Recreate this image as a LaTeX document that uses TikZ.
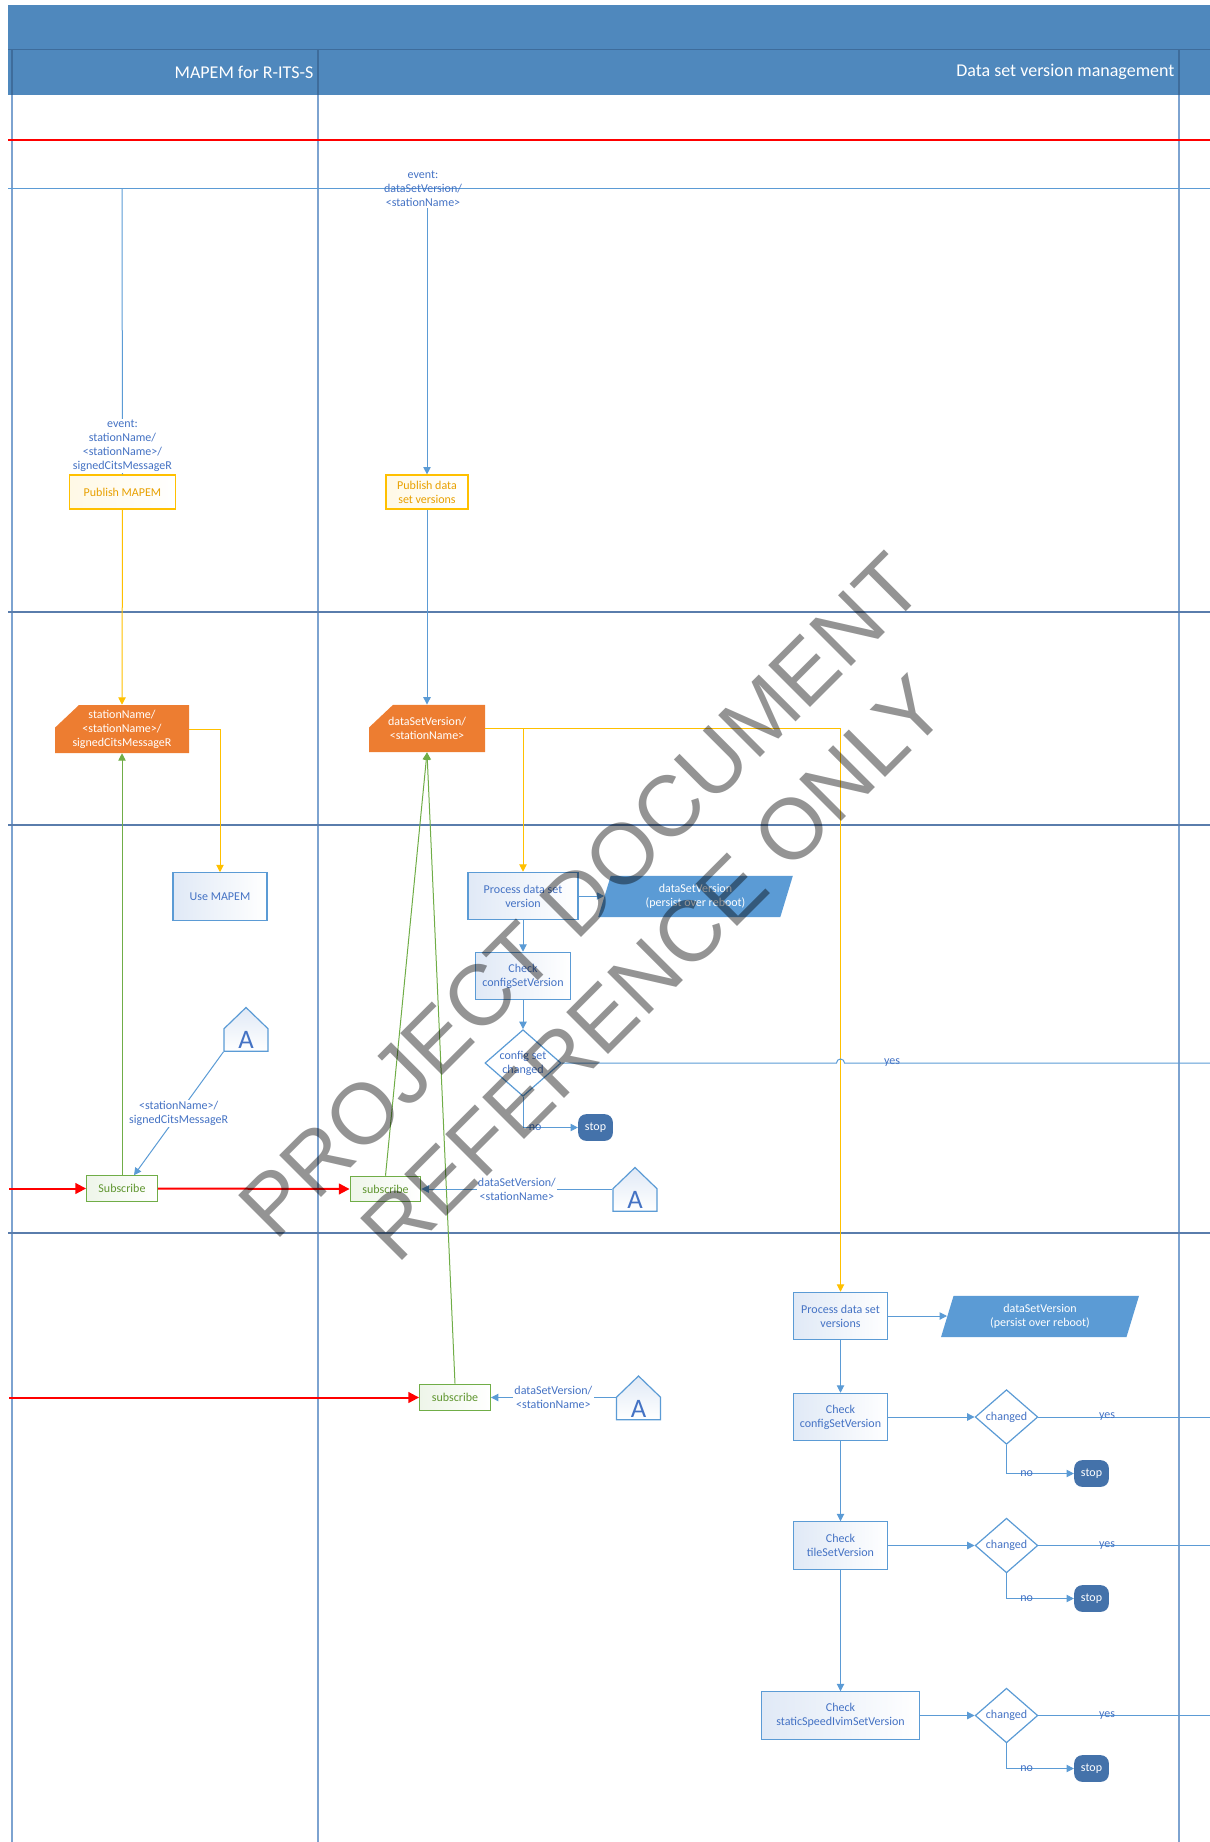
\documentclass[tikz,border=0pt]{standalone}
\usepackage{fontspec}
\setmainfont{Carlito}
\newfontfamily\wmfont{Liberation Sans}
\usetikzlibrary{calc, positioning, arrows.meta, shapes.geometric, shapes.symbols}
\definecolor{laneblue}{RGB}{79,136,189}
\definecolor{lanedark}{RGB}{62,108,155}
\definecolor{laneline}{RGB}{125,163,208}
\definecolor{phaseline}{RGB}{90,125,172}
\definecolor{flowblue}{RGB}{91,155,213}
\definecolor{textblue}{RGB}{68,114,196}
\definecolor{flowyellow}{RGB}{255,192,0}
\definecolor{textyellow}{RGB}{232,160,0}
\definecolor{flowgreen}{RGB}{112,173,71}
\definecolor{textgreen}{RGB}{96,150,48}
\definecolor{msgorange}{RGB}{237,125,49}
\definecolor{stopblue}{RGB}{68,114,170}
\definecolor{boxfill}{RGB}{224,233,246}

\begin{document}
\begin{tikzpicture}[
  x=0.75pt, y=-0.75pt,
  every node/.style={font=\fontsize{9}{10.5}\selectfont, inner sep=1pt},
  procbox/.style={rectangle, draw=flowblue, line width=0.9pt, left color=boxfill, right color=white,
    text=textblue, align=center, minimum width=71pt, minimum height=35.5pt},
  pubbox/.style={rectangle, draw=flowyellow, line width=0.9pt, left color=flowyellow!10, right color=white,
    text=textyellow, align=center, minimum height=25.5pt},
  subbox/.style={rectangle, draw=flowgreen, line width=0.9pt, left color=flowgreen!12, right color=white,
    text=textgreen, minimum width=53pt, minimum height=19pt},
  msg/.style={rectangle, text=white, align=center, minimum height=35.5pt,
    path picture={\fill[msgorange] ([xshift=18pt]path picture bounding box.north west)
      -- (path picture bounding box.north east) -- (path picture bounding box.south east)
      -- (path picture bounding box.south west) -- ([yshift=-17pt]path picture bounding box.north west) -- cycle;}},
  store/.style={trapezium, trapezium left angle=65, trapezium right angle=115, trapezium stretches body,
    fill=flowblue, text=white, align=center, minimum height=31pt},
  decision/.style={diamond, aspect=1.15, draw=flowblue, line width=0.9pt, fill=white, text=textblue,
    align=center, inner sep=0pt, minimum width=47pt, minimum height=41pt},
  stopnode/.style={rectangle, rounded corners=6pt, fill=stopblue, text=white, minimum width=26pt, minimum height=20pt},
  offpage/.style={signal, signal to=north, signal pointer angle=92, draw=flowblue, line width=0.9pt,
    top color=boxfill, bottom color=white, text=textblue, font=\fontsize{20}{22}\selectfont,
    inner sep=0.5pt, minimum width=33pt, minimum height=23pt},
  lbl/.style={text=textblue, align=center},
  lanehead/.style={font=\fontsize{13.5}{15}\selectfont, text=white, anchor=east},
  bline/.style={draw=flowblue, line width=0.75pt},
  yline/.style={draw=flowyellow, line width=0.75pt},
  gline/.style={draw=flowgreen, line width=0.75pt},
  rline/.style={draw=red, line width=1.5pt, -{Triangle[length=8pt, width=8pt]}},
  >={Triangle[length=5.5pt, width=5.5pt]}
]
  \useasboundingbox (0,0) rectangle (1210,1842);

  % --- swimlane frame ---
  \fill[laneblue] (8,5) rectangle (1210,95);
  \draw[lanedark, line width=0.75pt] (8,49) -- (1210,49);
  \foreach \x in {12,318,1179}
    \draw[lanedark, line width=0.9pt] (\x,49) -- (\x,95);
  \foreach \x in {12,318,1179}
    \draw[laneline, line width=1pt] (\x,95) -- (\x,1842);
  \node[lanehead] (hdmapem) at (315,72) {MAPEM for R-ITS-S};
  \node[lanehead] (hddsv) at (1176,72) {Data set version management};

  % phase separators
  \draw[red, line width=1.2pt] (8,140) -- (1210,140);
  \draw[flowblue, line width=0.75pt] (8,188) -- (1210,188);
  \foreach \y in {612,825,1233}
    \draw[phaseline, line width=1.3pt] (8,\y) -- (1210,\y);

  % --- MAPEM for R-ITS-S ---
  \node[pubbox, minimum width=80pt] (pubmapem) at (122.5,492) {Publish MAPEM};
  \node[msg, minimum width=100.5pt, minimum height=36pt] (msgmapem) at (122,729) {stationName/\\<stationName>/\\signedCitsMessageR};
  \node[procbox, minimum width=70.5pt] (usemapem) at (220,896.5) {Use MAPEM};
  \node[offpage] (offA1) at (246,1040) {A};
  \node[subbox] (submapem) at (122,1188.5) {Subscribe};

  % --- Data set version management ---
  \node[lbl] (evlbl2) at (423,189) {event:\\dataSetVersion/\\<stationName>};
  \node[pubbox, minimum width=61.5pt] (pubdsv) at (427,492) {Publish data\\set versions};
  \node[msg, minimum width=87pt] (msgdsv) at (427,728.5) {dataSetVersion/\\<stationName>};
  \node[procbox, minimum width=82.5pt] (procdsv) at (523,896) {Process data set\\version};
  \node[store, minimum width=146pt] (storedsv) at (695.5,896.5) {dataSetVersion\\(persist over reboot)};
  \node[procbox] (chkcfg) at (523,976) {Check\\configSetVersion};
  \node[decision, minimum width=57pt, minimum height=50pt, aspect=1.2] (chgcfg) at (523,1063) {config set\\changed};
  \node[stopnode] (stopcfg) at (595.5,1127.5) {stop};
  \node[subbox] (subdsv) at (385.5,1189) {subscribe};
  \node[offpage] (offA2) at (635,1200) {A};
  \node[subbox, minimum height=20pt] (subdsv2) at (455,1397.5) {subscribe};
  \node[offpage] (offA3) at (638.5,1408.5) {A};

  \node[procbox] (procall) at (840.5,1316) {Process data set\\versions};
  \node[store, minimum width=148.5pt] (storeall) at (1040,1316.5) {dataSetVersion\\(persist over reboot)};
  \node[procbox] (chkcfg2) at (840.5,1417) {Check\\configSetVersion};
  \node[decision] (chgcfg2) at (1006.5,1417) {changed};
  \node[stopnode] (stopcfg2) at (1091.5,1473.5) {stop};
  \node[procbox] (chktile) at (840.5,1545.5) {Check\\tileSetVersion};
  \node[decision] (chgtile) at (1006.5,1545.5) {changed};
  \node[stopnode] (stoptile) at (1091.5,1598.5) {stop};
  \node[procbox, minimum width=118pt] (chkivim) at (840.5,1715.5) {Check\\staticSpeedIvimSetVersion};
  \node[decision] (chgivim) at (1006.5,1715.5) {changed};
  \node[stopnode] (stopivim) at (1091.5,1768.5) {stop};

  % free ends
  \coordinate (evtop1) at (122,188);
  \coordinate (redin1) at (9,1188.5);
  \coordinate (redin2) at (9,1397.5);
  \coordinate (yesend) at (1210,0);

  % --- connectors ---
  \draw[bline] (evtop1) -- node[lbl, fill=white, pos=0.9] (evlbl1) {event:\\stationName/\\<stationName>/\\signedCitsMessageR} (pubmapem.north);
  \draw[bline,->] (evlbl2.south -| pubdsv.north) -- (pubdsv.north);
  \draw[yline,->] (pubmapem.south) -- (msgmapem.north);
  \draw[bline,->] (pubdsv.south) -- (msgdsv.north);
  \draw[yline,->] (msgmapem.east) -| (usemapem.north);
  \draw[yline,->] (msgdsv.east) -| (procall.north);
  \draw[yline,->] (msgdsv.east -| procdsv.north) -- (procdsv.north);

  \draw[bline,->] (procdsv.east) -- (procdsv.east -| storedsv.left side);
  \draw[bline,->] (procdsv) -- (chkcfg);
  \draw[bline,->] (chkcfg) -- (chgcfg);
  \draw[bline,->] (chgcfg.south) |- node[lbl, pos=0.61] {no} (stopcfg.west);
  \draw[bline] (chgcfg.east) -- ($(chgcfg.east -| procall.north)+(-4,0)$) arc[start angle=180, end angle=0, radius=3pt]
    -- node[lbl, pos=0.13] {yes} (chgcfg.east -| yesend);

  \draw[bline,->] (procall.east) -- (procall.east -| storeall.left side);
  \draw[bline,->] (procall) -- (chkcfg2);
  \draw[bline,->] (chkcfg2) -- (chktile);
  \draw[bline,->] (chktile) -- (chkivim);
  \foreach \n in {cfg2,tile,ivim} {
    \draw[bline,->] (chk\n.east) -- (chg\n.west);
    \draw[bline,->] (chg\n.south) |- node[lbl, pos=0.65] {no} (stop\n.west);
    \draw[bline] (chg\n.east) -- node[lbl, pos=0.4] {yes} (chg\n.east -| yesend);
  }

  % subscriptions
  \draw[gline,->] (submapem) -- (msgmapem);
  \draw[gline,->] (subdsv.north) -- (msgdsv.south);
  \draw[gline,->] (subdsv2.north) -- (msgdsv.south);
  \draw[bline,->] (offA1.south west) -- node[lbl, fill=white] {<stationName>/\\signedCitsMessageR} ([xshift=9pt]submapem.north);
  \draw[bline,->] (offA2.west |- subdsv.east) -- node[lbl, fill=white] {dataSetVersion/\\<stationName>} (subdsv.east);
  \draw[bline,->] (offA3.west |- subdsv2.east) -- node[lbl, fill=white] {dataSetVersion/\\<stationName>} (subdsv2.east);
  \draw[rline] (redin1) -- (submapem.west);
  \draw[rline] (submapem.east) -- (subdsv.west);
  \draw[rline] (redin2) -- (subdsv2.west);

  % watermark
  \node[font=\wmfont\fontsize{64.5}{77}\selectfont, text=black, text opacity=0.42, rotate=45, align=center]
    (watermark) at (617,932) {PROJECT DOCUMENT\\REFERENCE ONLY};
\end{tikzpicture}
\end{document}
